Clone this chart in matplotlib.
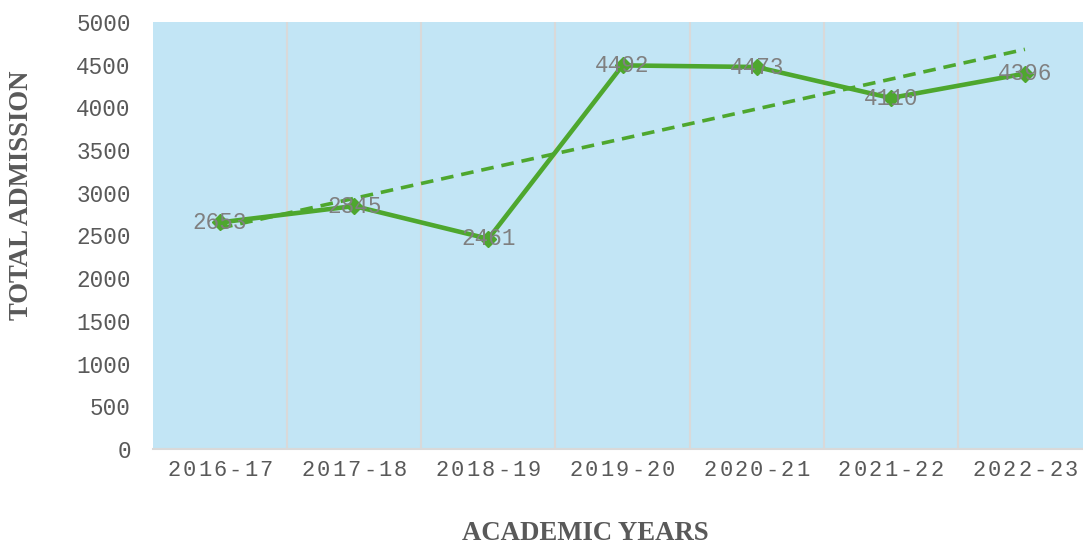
import numpy as np
import matplotlib.pyplot as plt
import matplotlib.transforms as mtransforms

years = ["2016-17", "2017-18", "2018-19", "2019-20", "2020-21", "2021-22", "2022-23"]
admissions = [2653, 2845, 2461, 4492, 4473, 4110, 4396]

green = "#4EA72E"
mono = "Liberation Mono"
serif = "Liberation Serif"


def main():
    fig = plt.figure(figsize=(10.83, 5.46), dpi=100)
    W, H = 1083, 546
    ax = fig.add_axes([153 / W, (H - 449) / H, (1092 - 153) / W, (449 - 22) / H])
    ax.set_facecolor("#C2E5F5")

    x = np.arange(len(years))
    y = np.array(admissions)

    # category separators
    for b in np.arange(0.5, len(years) - 1, 1):
        ax.axvline(b, color="#D9D9D9", lw=1.5, zorder=1)

    ax.plot(x, y, color=green, lw=3.3, marker="D", ms=8, zorder=4)

    # linear trendline
    k, c = np.polyfit(x, y, 1)
    ax.plot(x, k * x + c, color=green, lw=2.6, ls=(0, (3.5, 2.2)), zorder=3)

    for xi, yi in zip(x, y):
        ax.text(xi, yi, str(yi), ha="center", va="center", fontsize=16.3,
                family=mono, color="#808080", zorder=5)

    ax.set_xlim(-0.5, len(years) - 0.5)
    ax.set_ylim(0, 5000)
    ax.set_yticks(range(0, 5001, 500))
    ax.tick_params(axis="y", length=0, pad=16, labelsize=16.3, labelcolor="#595959")
    for t in ax.get_yticklabels():
        t.set_family(mono)
    ax.set_xticks([])

    for s in ["top", "right", "left"]:
        ax.spines[s].set_visible(False)
    ax.spines["bottom"].set_color("#D9D9D9")
    ax.spines["bottom"].set_linewidth(1.5)

    # letter-spaced category labels
    pitch = 15.4
    base = ax.get_xaxis_transform()
    for i, lab in enumerate(years):
        n = len(lab)
        for j, ch in enumerate(lab):
            dx = (j - (n - 1) / 2) * pitch
            tr = mtransforms.offset_copy(base, fig=fig, x=dx, y=-22, units="dots")
            ax.text(i, 0, ch, transform=tr, ha="center", va="center",
                    fontsize=15.8, family=mono, color="#595959", clip_on=False)

    fig.text(585 / W, 1 - 533 / H, "ACADEMIC YEARS", ha="center", va="center",
             fontsize=19.3, family=serif, weight="bold", color="#595959")
    fig.text(22 / W, 1 - 195 / H, "TOTAL ADMISSION", ha="center", va="center",
             rotation=90, fontsize=19.3, family=serif, weight="bold", color="#595959")

    fig.savefig("out.png", dpi=100)


if __name__ == "__main__":
    main()
